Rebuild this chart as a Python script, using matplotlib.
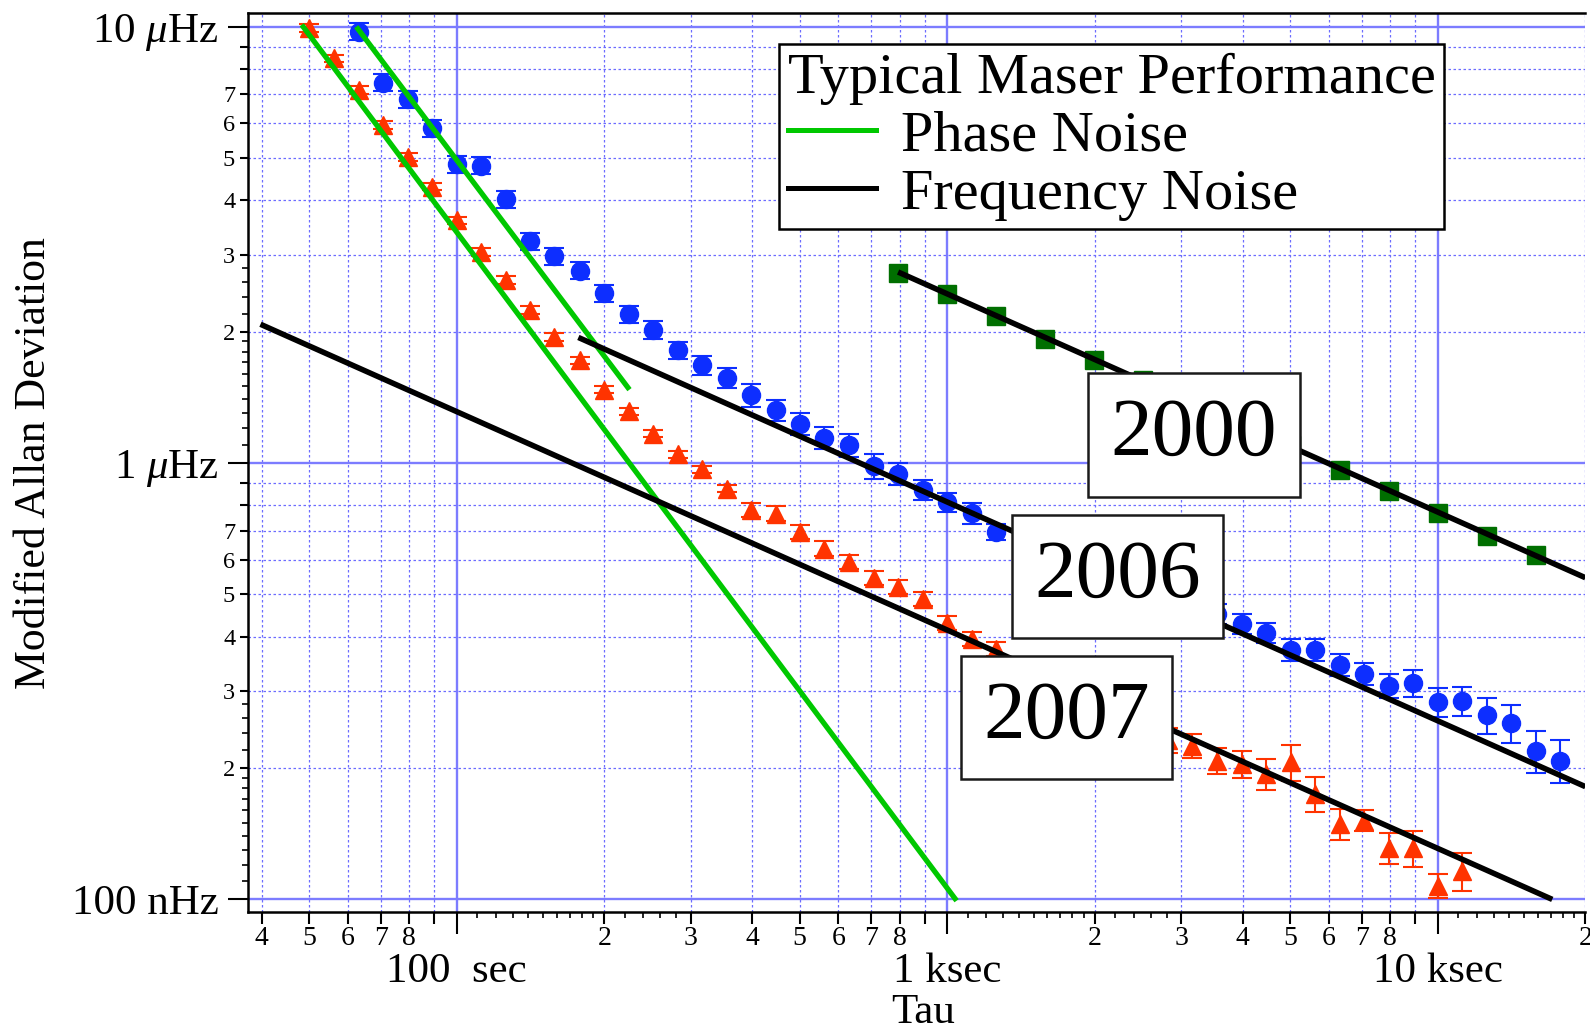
import matplotlib

matplotlib.use("Agg")

import matplotlib.pyplot as plt
import numpy as np
from matplotlib.lines import Line2D
from matplotlib.markers import TICKDOWN, TICKLEFT
from matplotlib.patches import Rectangle
from matplotlib.ticker import FixedLocator, FuncFormatter

plt.rcParams["font.family"] = ["Liberation Serif", "DejaVu Serif"]
plt.rcParams["mathtext.fontset"] = "custom"
plt.rcParams["mathtext.rm"] = "Liberation Serif"
plt.rcParams["mathtext.it"] = "Liberation Serif:italic"

# 2006 maser, blue circles (tau in s, deviation in uHz, error in %)
tau_2006 = [63.1, 70.8, 79.4, 89.1, 100, 112, 126, 141, 158, 178, 200, 224, 251,
            282, 316, 355, 398, 447, 501, 562, 631, 708, 794, 891, 1000, 1122, 1259,
            3548, 3981, 4467, 5012, 5623, 6310, 7079, 7943, 8913, 10000, 11220,
            12589, 14125, 15849, 17783]
adev_2006 = [9.74, 7.44, 6.82, 5.85, 4.84, 4.80, 4.02, 3.22, 2.98, 2.76, 2.45, 2.19, 2.02,
             1.814, 1.675, 1.570, 1.430, 1.321, 1.231, 1.144, 1.098, 0.983, 0.946, 0.869,
             0.814, 0.768, 0.695,
             0.451, 0.428, 0.408, 0.373, 0.373, 0.345, 0.329, 0.309, 0.313, 0.283, 0.2855,
             0.264, 0.254, 0.219, 0.208]
err_2006_pct = [4.5, 4.5, 4.5, 4.5, 4.5, 4.5, 4.5, 4.5, 4.5, 4.5, 4.5, 4.5, 4.5,
                4.5, 4.9, 5.4, 6.0, 5.4, 5.8, 6.0, 6.0, 6.5, 5.7, 5.4, 4.9, 5.4, 4.3,
                5.4, 5.4, 5.4, 5.8, 5.8, 6.0, 6.0, 6.5, 7.1, 7.6, 7.6,
                9.4, 10.0, 11.0, 11.3]

# 2007 maser, red triangles
tau_2007 = [50.1, 56.2, 63.1, 70.8, 79.4, 89.1, 100, 112, 126, 141, 158, 178, 200, 224,
            251, 282, 316, 355, 398, 447, 501, 562, 631, 708, 794, 891, 1000, 1122, 1259,
            2818, 3162, 3548, 3981, 4467, 5012, 5623, 6310, 7079, 7943, 8913, 10000, 11220]
adev_2007 = [9.92, 8.46, 7.16, 5.95, 5.03, 4.30, 3.60, 3.05, 2.63, 2.24, 1.945, 1.72, 1.473,
             1.314, 1.168, 1.047, 0.967, 0.874, 0.782, 0.766, 0.695, 0.637, 0.593, 0.546,
             0.521, 0.489, 0.430, 0.396, 0.375,
             0.232, 0.225, 0.208, 0.204, 0.194, 0.206, 0.1745, 0.149, 0.1516, 0.1312,
             0.1312, 0.1075, 0.1164]
err_2007_pct = [2, 2, 2, 2, 2, 2, 2, 2, 2, 2, 2, 2, 2, 2, 2, 2, 2, 2,
                3.8, 3.8, 3.8, 3.8, 3.8, 3.8, 3.8, 3.8, 3.8, 3.8, 3.8,
                6.5, 6.5, 7.0, 7.0, 8.0, 9.5, 9.2, 8.2, 5.5, 8.2, 9.4, 6.5, 10.0]

# 2000 maser, green squares
tau_2000 = [794, 1000, 1259, 1585, 1995, 2512, 5012, 6310, 7943, 10000, 12589, 15849]
adev_2000 = [2.73, 2.446, 2.17, 1.929, 1.726, 1.55, 1.10, 0.966, 0.863, 0.768, 0.682, 0.614]

# typical maser noise lines (end points)
phase_2007_tau = [48.3, 1045]
phase_2007_adev = [10.1, 0.0993]
phase_2006_tau = [62.4, 225]
phase_2006_adev = [10.0, 1.473]
freq_2007_tau = [39.8, 17120]
freq_2007_adev = [2.08, 0.100]
freq_2006_tau = [177, 20000]
freq_2006_adev = [1.94, 0.1813]
freq_2000_tau = [794, 20000]
freq_2000_adev = [2.74, 0.546]

BLUE = "#0d2eff"
RED = "#ff3300"
DARK_GREEN = "#006f00"
LINE_GREEN = "#00c800"
GRID_MAJOR = "#7c7cff"
GRID_MINOR = "#6c6cff"

X_LIM = (37.6, 20000)
Y_LIM = (0.0934, 10.73)


def minor_digit_formatter(limit):
    def fmt(value, pos):
        exponent = np.floor(np.log10(value) + 1e-9)
        digit = int(round(value / 10 ** exponent))
        return str(digit) if 2 <= digit <= limit else ""
    return FuncFormatter(fmt)


fig = plt.figure(figsize=(15.9, 10.33), dpi=100)
ax = fig.add_axes([0.1562, 0.1168, 0.8409, 0.8703])
ax.set_xscale("log")
ax.set_yscale("log")
ax.set_xlim(*X_LIM)
ax.set_ylim(*Y_LIM)

decades_x = [10, 100, 1000, 10000]
decades_y = [0.01, 0.1, 1, 10]
fine_steps = [1.1, 1.2, 1.3, 1.4, 1.5, 1.6, 1.7, 1.8, 1.9, 2.2, 2.4, 2.6, 2.8]

ax.set_xticks([100, 1000, 10000], labels=["100  sec", "1 ksec", "10 ksec"])
ax.xaxis.set_minor_locator(FixedLocator([d * k for d in decades_x for k in range(2, 10)]))
ax.xaxis.set_minor_formatter(minor_digit_formatter(8))
ax.set_yticks([0.1, 1, 10], labels=["100 nHz", r"1 $\mu$Hz", r"10 $\mu$Hz"])
ax.yaxis.set_minor_locator(FixedLocator([d * k for d in decades_y for k in range(2, 10)]))
ax.yaxis.set_minor_formatter(minor_digit_formatter(7))

ax.tick_params(axis="x", which="major", length=16, width=1.5, pad=13, labelsize=31)
ax.tick_params(axis="x", which="minor", length=8.4, width=1.5, pad=1.5, labelsize=20)
ax.tick_params(axis="y", which="major", length=14.4, width=1.5, pad=7, labelsize=31)
ax.tick_params(axis="y", which="minor", length=6, width=1.5, pad=3.5, labelsize=17.5)
ax.tick_params(top=False, right=False, which="both")

# finer unlabelled ticks, a third tick level drawn as tick markers
fine_x = [d * s for d in decades_x for s in fine_steps if X_LIM[0] <= d * s <= X_LIM[1]]
fine_y = [d * s for d in decades_y for s in fine_steps if Y_LIM[0] <= d * s <= Y_LIM[1]]
ax.plot(fine_x, np.zeros(len(fine_x)), transform=ax.get_xaxis_transform(), linestyle="none",
        marker=TICKDOWN, markersize=4.3, markeredgewidth=1.2, color="black", clip_on=False)
ax.plot(np.zeros(len(fine_y)), fine_y, transform=ax.get_yaxis_transform(), linestyle="none",
        marker=TICKLEFT, markersize=4.3, markeredgewidth=1.2, color="black", clip_on=False)

ax.set_axisbelow(True)
ax.grid(True, which="major", color=GRID_MAJOR, linewidth=1.7, linestyle="-")
ax.grid(True, which="minor", color=GRID_MINOR, linewidth=0.9, linestyle=(0, (2, 2)))

for side in ["left", "bottom", "top"]:
    ax.spines[side].set_linewidth(1.8)
ax.spines["right"].set_visible(False)

ax.errorbar(tau_2006, adev_2006, yerr=np.array(adev_2006) * np.array(err_2006_pct) / 100,
            fmt="o", color=BLUE, ms=13, capsize=7, elinewidth=1.5, capthick=1.5, zorder=3)
ax.errorbar(tau_2007, adev_2007, yerr=np.array(adev_2007) * np.array(err_2007_pct) / 100,
            fmt="^", color=RED, ms=13, capsize=7, elinewidth=1.5, capthick=1.5, zorder=3)
ax.plot(tau_2000, adev_2000, "s", color=DARK_GREEN, ms=13, zorder=3)

for t, a in [(phase_2007_tau, phase_2007_adev), (phase_2006_tau, phase_2006_adev)]:
    ax.plot(t, a, color=LINE_GREEN, linewidth=3.8, solid_capstyle="butt", zorder=4)
for t, a in [(freq_2007_tau, freq_2007_adev), (freq_2006_tau, freq_2006_adev),
             (freq_2000_tau, freq_2000_adev)]:
    ax.plot(t, a, color="black", linewidth=4.0, solid_capstyle="butt", zorder=4)

# year boxes
for label, x0, y0, x1, y1 in [("2000", 0.628, 0.4616, 0.7866, 0.5996),
                              ("2006", 0.5709, 0.3048, 0.7292, 0.4419),
                              ("2007", 0.5328, 0.1479, 0.6906, 0.2854)]:
    ax.add_patch(Rectangle((x0, y0), x1 - x0, y1 - y0, transform=ax.transAxes,
                           facecolor="white", edgecolor="#1a1a1a", linewidth=1.8, zorder=5))
    ax.text((x0 + x1) / 2, (y0 + y1) / 2, label, transform=ax.transAxes, fontsize=60,
            ha="center", va="center", zorder=6)

handles = [Line2D([], [], color=LINE_GREEN, linewidth=3.6),
           Line2D([], [], color="black", linewidth=3.6)]
legend = ax.legend(handles, ["Phase Noise", "Frequency Noise"], title="Typical Maser Performance",
                   loc="upper left", bbox_to_anchor=(0.3969, 0.9663), borderaxespad=0,
                   fontsize=42, title_fontsize=42.1, alignment="left", frameon=True,
                   fancybox=False, framealpha=1, edgecolor="black", borderpad=0.15,
                   labelspacing=0.09, handlelength=1.52, handletextpad=0.42)
legend.get_frame().set_linewidth(1.8)
legend.set_zorder(7)

ax.set_xlabel("Tau", fontsize=31)
ax.xaxis.set_label_coords(0.505, -0.0905)
ax.set_ylabel("Modified Allan Deviation", fontsize=31.5)
ax.yaxis.set_label_coords(-0.145, 0.5)

fig.savefig("out.png", dpi=100)
